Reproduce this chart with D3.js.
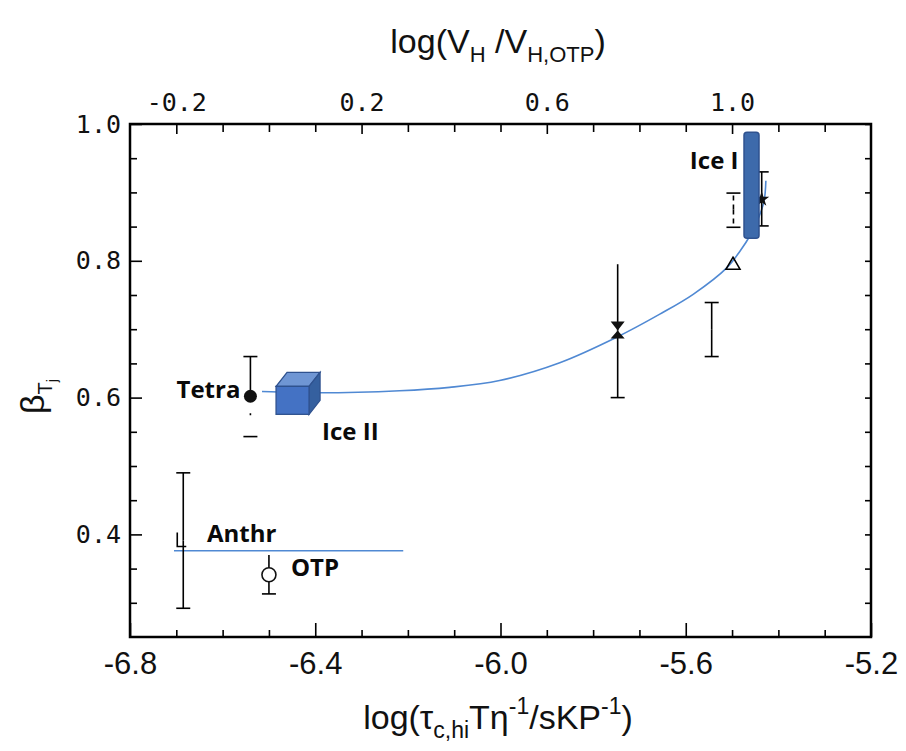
<html>
<head>
<title>beta vs log tau</title>
<script src="https://d3js.org/d3.v7.min.js"></script>
<style>
  body { margin: 0; background: white; }
  .frame { fill: none; stroke: black; stroke-width: 2.5px; }
  .tick line { stroke: black; stroke-width: 1.6px; }
  .domain { display: none; }
  .mono text { font-family: "DejaVu Sans Mono", monospace; font-size: 25px; fill: #111; }
  .sans text { font-family: "Liberation Sans", Arial, sans-serif; font-size: 31px; fill: #111; }
  .lbl { font-family: "Open Sans", sans-serif; font-weight: bold; font-size: 24px; fill: #0a0a0a; }
  .title { font-family: "Liberation Sans Narrow", "Liberation Sans", sans-serif; font-size: 34px; fill: #111; }
  .fit { fill: none; stroke: #5089d3; stroke-width: 1.6px; }
  .err { stroke: black; stroke-width: 1.6px; fill: none; }
</style>
</head>
<body>
<svg id="chart" width="906" height="751"></svg>
<script>
// axis ticks
const xMajor = [-6.8, -6.4, -6.0, -5.6, -5.2];
const xTopMajor = [-0.2, 0.2, 0.6, 1.0];
const yMajor = [0.4, 0.6, 0.8, 1.0];

// data points with error bars
const ptName = ["Tetra", "Anthr", "OTP", "hourglass", "bar", "triangle", "dashed", "star"];
const ptX  = [-6.54, -6.685, -6.50, -5.747, -5.544, -5.498, -5.497, -5.436];
const ptY  = [0.602, 0.391, 0.341, 0.698, 0.700, 0.795, 0.875, 0.890];
const ptLo = [0.543, 0.292, 0.313, 0.600, 0.660, null, 0.849, 0.851];
const ptHi = [0.660, 0.490, 0.370, 0.795, 0.739, null, 0.899, 0.930];

// fitted curve
const curveX = [-6.515, -6.391, -6.218, -6.110, -6.002, -5.872, -5.747, -5.656, -5.584, -5.511, -5.483, -5.461, -5.444, -5.431, -5.427];
const curveY = [0.609, 0.607, 0.610, 0.615, 0.625, 0.651, 0.689, 0.722, 0.751, 0.790, 0.814, 0.837, 0.861, 0.887, 0.917];

// Anthr / OTP horizontal line
const flatX = [-6.705, -6.21];
const flatY = 0.376;

// Ice I bar and Ice II cube
const iceIX = -5.458, iceITop = 0.988, iceIBottom = 0.833;
const iceIIX = -6.449, iceIIY = 0.596;

const svg = d3.select("#chart");
const L = 130, R = 871, T = 124, B = 637;

const x = d3.scaleLinear().domain([-6.8, -5.2]).range([L, R]);
const xTop = d3.scaleLinear().domain([-0.3, 1.3]).range([L, R]);
const y = d3.scaleLinear().domain([0.25, 1.0]).range([B, T]);

const fmt = d => d.toFixed(1);
const xMinor = d3.range(-6.7, -5.25, 0.1).filter(v => !xMajor.some(m => Math.abs(m - v) < 1e-6));
const xTopMinor = d3.range(-0.2, 1.3, 0.1).filter(v => !xTopMajor.some(m => Math.abs(m - v) < 1e-6));
const yMinor = d3.range(0.3, 1.0, 0.05).filter(v => !yMajor.some(m => Math.abs(m - v) < 1e-6));

// bottom axis
svg.append("g").attr("class", "sans").attr("transform", "translate(0," + B + ")")
  .call(d3.axisBottom(x).tickValues(xMajor).tickSize(-14).tickPadding(15).tickFormat(fmt));
svg.append("g").attr("transform", "translate(0," + B + ")")
  .call(d3.axisBottom(x).tickValues(xMinor).tickSize(-7).tickFormat(""));

// top axis
svg.append("g").attr("class", "mono").attr("transform", "translate(0," + T + ")")
  .call(d3.axisTop(xTop).tickValues(xTopMajor).tickSize(-10).tickPadding(13).tickFormat(fmt));
svg.append("g").attr("transform", "translate(0," + T + ")")
  .call(d3.axisTop(xTop).tickValues(xTopMinor).tickSize(-8).tickFormat(""));

// left axis
svg.append("g").attr("class", "mono").attr("transform", "translate(" + L + ",0)")
  .call(d3.axisLeft(y).tickValues(yMajor).tickSize(-12).tickPadding(9).tickFormat(fmt));
svg.append("g").attr("transform", "translate(" + L + ",0)")
  .call(d3.axisLeft(y).tickValues(yMinor).tickSize(-7).tickFormat(""));

// right axis
svg.append("g").attr("transform", "translate(" + R + ",0)")
  .call(d3.axisRight(y).tickValues(yMajor.concat(yMinor)).tickSize(-6).tickFormat(""));

svg.append("rect").attr("class", "frame")
  .attr("x", L).attr("y", T).attr("width", R - L).attr("height", B - T);

// fitted curve
const line = d3.line().x(d => x(d[0])).y(d => y(d[1])).curve(d3.curveCatmullRom);
svg.append("path").attr("class", "fit").attr("d", line(d3.zip(curveX, curveY)));
svg.append("path").attr("class", "fit").attr("d", line(flatX.map(v => [v, flatY])));

// error bars
const cap = 7;
ptName.forEach((n, i) => {
  if (ptLo[i] === null) return;
  const cx = x(ptX[i]);
  const g = svg.append("g");
  const dash = n === "dashed" ? "5,4" : null;
  // upper half
  g.append("line").attr("class", "err").attr("x1", cx).attr("x2", cx)
    .attr("y1", y(ptY[i])).attr("y2", y(ptHi[i])).attr("stroke-dasharray", dash);
  // lower half
  g.append("line").attr("class", "err").attr("x1", cx).attr("x2", cx)
    .attr("y1", y(ptY[i])).attr("y2", y(ptLo[i]))
    .attr("stroke-dasharray", n === "Tetra" ? "0,17,2,40" : dash);
  if (n !== "OTP" && n !== "hourglass")
    g.append("line").attr("class", "err").attr("x1", cx - cap).attr("x2", cx + cap)
      .attr("y1", y(ptHi[i])).attr("y2", y(ptHi[i]));
  g.append("line").attr("class", "err").attr("x1", cx - cap).attr("x2", cx + cap)
    .attr("y1", y(ptLo[i])).attr("y2", y(ptLo[i]));
});

// markers
ptName.forEach((n, i) => {
  const g = svg.append("g").attr("transform", "translate(" + x(ptX[i]) + "," + y(ptY[i]) + ")");
  if (n === "Tetra") g.append("circle").attr("r", 6.5).attr("fill", "#111");
  if (n === "OTP") g.append("circle").attr("r", 7).attr("fill", "white").attr("stroke", "#111").attr("stroke-width", 1.6);
  if (n === "Anthr") g.append("path").attr("d", "M-6,-8V6H3").attr("class", "err");
  if (n === "hourglass") g.append("path").attr("d", "M-7,-9H7L0,0L7,8H-7L0,0Z").attr("fill", "#111");
  if (n === "triangle") g.append("path").attr("d", "M0,-7L7,5H-7Z").attr("class", "err");
  if (n === "star") g.append("path").attr("d", d3.symbol(d3.symbolStar, 70)).attr("fill", "#111");
});

// Ice I bar
svg.append("rect")
  .attr("x", x(iceIX) - 7.5).attr("y", y(iceITop))
  .attr("width", 15).attr("height", y(iceIBottom) - y(iceITop))
  .attr("rx", 3)
  .attr("fill", "#3d6aab").attr("stroke", "#2f528f").attr("stroke-width", 1.5);

// Ice II cube
const cx0 = x(iceIIX) - 16.5, cy0 = y(iceIIY) - 14, fw = 33, fh = 28, dx = 11, dy = 14;
svg.append("path")
  .attr("d", `M${cx0},${cy0}L${cx0 + dx},${cy0 - dy}H${cx0 + fw + dx}L${cx0 + fw},${cy0}Z`)
  .attr("fill", "#6f96d4").attr("stroke", "#2f528f").attr("stroke-width", 1.3);
svg.append("path")
  .attr("d", `M${cx0 + fw},${cy0}L${cx0 + fw + dx},${cy0 - dy}V${cy0 + fh - dy}L${cx0 + fw},${cy0 + fh}Z`)
  .attr("fill", "#35609f").attr("stroke", "#2f528f").attr("stroke-width", 1.3);
svg.append("rect")
  .attr("x", cx0).attr("y", cy0).attr("width", fw).attr("height", fh)
  .attr("fill", "#4472c4").attr("stroke", "#2f528f").attr("stroke-width", 1.3);

// labels
const idx = n => ptName.indexOf(n);
svg.append("text").attr("class", "lbl").attr("text-anchor", "end")
  .attr("x", x(ptX[idx("Tetra")]) - 10).attr("y", y(ptY[idx("Tetra")]) + 2).text("Tetra");
svg.append("text").attr("class", "lbl")
  .attr("x", cx0 + 46).attr("y", cy0 + 54).text("Ice II");
svg.append("text").attr("class", "lbl").attr("text-anchor", "end")
  .attr("x", x(iceIX) - 13).attr("y", y(iceITop) + 37).text("Ice I");
svg.append("text").attr("class", "lbl")
  .attr("x", x(flatX[0]) + 33).attr("y", y(flatY) - 9).text("Anthr");
svg.append("text").attr("class", "lbl")
  .attr("x", x(ptX[idx("OTP")]) + 22).attr("y", y(ptY[idx("OTP")]) + 1).text("OTP");

// axis titles
const topTitle = svg.append("text").attr("class", "title").attr("text-anchor", "middle")
  .attr("x", 498).attr("y", 53);
topTitle.append("tspan").text("log(V");
topTitle.append("tspan").attr("font-size", 22).attr("dy", 9).text("H");
topTitle.append("tspan").attr("dy", -9).text(" /V");
topTitle.append("tspan").attr("font-size", 22).attr("dy", 9).text("H,OTP");
topTitle.append("tspan").attr("dy", -9).text(")");

const botTitle = svg.append("text").attr("class", "title").attr("text-anchor", "middle")
  .attr("x", 498).attr("y", 729).attr("font-size", 36);
botTitle.append("tspan").text("log(τ");
botTitle.append("tspan").attr("font-size", 23).attr("dy", 9).text("c,hi");
botTitle.append("tspan").attr("dy", -9).text("Tη");
botTitle.append("tspan").attr("font-size", 23).attr("dy", -15).text("-1");
botTitle.append("tspan").attr("dy", 15).text("/sKP");
botTitle.append("tspan").attr("font-size", 23).attr("dy", -15).text("-1");
botTitle.append("tspan").attr("dy", 15).text(")");

const yTitle = svg.append("text").attr("class", "title").attr("font-size", 38)
  .attr("transform", "translate(44,414) rotate(-90)");
yTitle.append("tspan").text("β");
yTitle.append("tspan").attr("font-size", 20).attr("dy", 8).text("T");
yTitle.append("tspan").attr("font-size", 14).attr("dy", 5).text("j");
</script>
</body>
</html>
